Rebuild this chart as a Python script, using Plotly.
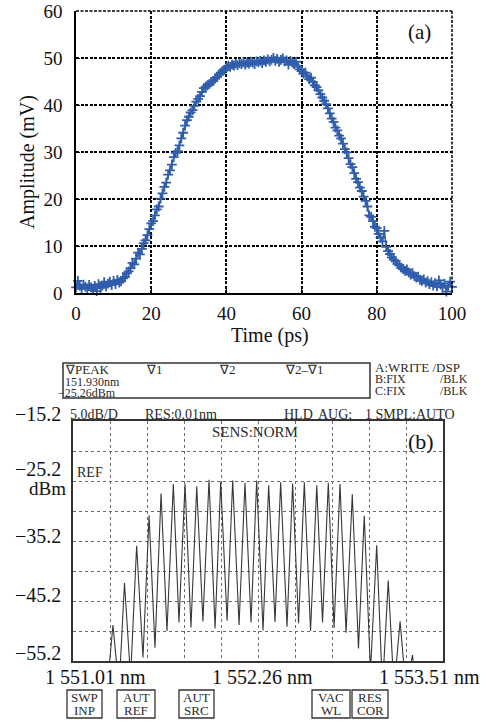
import plotly.graph_objects as go

# ---------------- data: panel (a) pulse ----------------
amplitude_mv = [
    1.2, 2.6, 1.5, 0.9, 1.8, 1.3, 1.0, 1.7, 1.2, 0.6, 1.5, 0.4, 1.9, 1.1, 1.6, 2.3, 1.4, 2.0, 2.4, 1.7,
    2.6, 1.9, 2.8, 2.2, 2.5, 3.1, 3.4, 4.2, 4.6, 5.3, 6.4, 6.1, 7.3, 8.6, 8.2, 9.4, 10.6, 11.2, 12.3, 13.6,
    14.8, 15.3, 16.5, 17.8, 18.4, 20.1, 21.2, 22.6, 23.5, 25.2, 26.1, 27.3, 28.9, 29.8, 30.2, 31.4, 32.9, 34.1, 35.6, 36.8,
    37.5, 38.4, 38.9, 39.8, 40.7, 41.3, 41.9, 42.8, 43.6, 43.9, 44.2, 44.5, 44.9, 45.1, 45.6, 46.0, 46.5, 46.9, 47.2, 47.5,
    48.0, 48.3, 48.1, 48.6, 48.4, 48.8, 48.5, 48.9, 48.7, 49.1, 48.6, 49.0, 48.8, 49.2, 49.0, 48.7, 49.3, 49.1, 49.4, 48.9,
    49.5, 49.2, 49.7, 49.3, 49.6, 50.0, 49.4, 49.8, 49.2, 49.6, 49.9, 49.3, 49.5, 48.6, 49.4, 49.0, 48.7, 49.2, 48.1, 47.6,
    47.2, 46.7, 46.9, 46.1, 45.5, 45.8, 44.9, 44.2, 43.8, 43.1, 42.3, 41.6, 40.9, 40.2, 39.3, 38.2, 37.1, 36.4, 35.2, 34.6,
    33.5, 32.9, 31.8, 30.6, 29.9, 28.7, 27.4, 26.8, 25.5, 24.3, 23.6, 22.4, 21.7, 20.5, 19.6, 18.4, 16.5, 16.2, 15.3, 14.1,
    13.8, 12.6, 11.8, 11.0, 13.2, 9.8, 8.9, 8.3, 7.6, 7.1, 6.8, 6.2, 5.9, 5.4, 5.1, 4.7, 5.0, 4.4, 3.9, 4.2,
    3.6, 3.3, 3.5, 2.8, 2.6, 2.9, 2.2, 2.5, 1.9, 2.3, 1.6, 2.1, 1.4, 2.7, 1.8, 1.2, 2.0, 0.3, 1.5, 2.4, 1.3,
]
time_ps = [i * 0.5 for i in range(len(amplitude_mv))]  # sampling grid, 0.5 ps

time_ticks = [0, 20, 40, 60, 80, 100]
amp_ticks = [0, 10, 20, 30, 40, 50, 60]

# ---------------- data: panel (b) spectrum (peak / valley vertices) ----------------
wavelength_nm = [
    1551.240, 1551.280, 1551.321, 1551.358, 1551.399, 1551.440, 1551.483, 1551.524, 1551.564, 1551.605,
    1551.645, 1551.688, 1551.726, 1551.767, 1551.807, 1551.846, 1551.888, 1551.929, 1551.970, 1552.008,
    1552.051, 1552.089, 1552.132, 1552.172, 1552.213, 1552.251, 1552.294, 1552.332, 1552.375, 1552.413,
    1552.456, 1552.494, 1552.534, 1552.573, 1552.615, 1552.657, 1552.696, 1552.735, 1552.774, 1552.814,
    1552.855, 1552.897, 1552.939, 1552.978, 1553.020, 1553.062, 1553.101, 1553.140, 1553.179, 1553.220,
    1553.260, 1553.304, 1553.328,
]
power_dbm = [
    -60.0, -49.2, -60.0, -42.2, -58.0, -36.0, -54.6, -30.9, -53.0, -27.3,
    -50.2, -25.7, -48.8, -25.7, -49.6, -26.1, -48.6, -25.0, -49.8, -25.3,
    -48.5, -25.1, -49.2, -25.5, -48.8, -25.1, -50.1, -25.9, -48.7, -25.4,
    -49.5, -25.6, -48.9, -25.4, -50.2, -25.9, -48.8, -25.5, -49.7, -25.7,
    -50.5, -27.4, -53.1, -31.0, -57.0, -35.9, -60.0, -41.8, -60.0, -48.6,
    -60.0, -54.2, -60.0,
]
wl_range = [1551.01, 1553.51]
db_range = [-55.2, -15.2]
db_labels = ["−15.2", "−25.2", "−35.2", "−45.2", "−55.2"]
wl_labels = ["1 551.01 nm", "1 552.26 nm", "1 553.51 nm"]

W, H = 487, 723
SERIF = "Liberation Serif, Times New Roman, serif"
BLUE = "#2f5dab"
OSA = "#2a2a2a"


def px(x):
    return x / W


def py(y):
    return 1 - y / H


fig = go.Figure()

fig.add_trace(go.Scatter(
    x=time_ps, y=amplitude_mv, mode="lines+markers", xaxis="x", yaxis="y",
    line=dict(color=BLUE, width=1.5),
    marker=dict(symbol="cross-thin", size=7, color=BLUE, line=dict(color=BLUE, width=1.8)),
    cliponaxis=False, showlegend=False,
))

fig.add_trace(go.Scatter(
    x=wavelength_nm, y=power_dbm, mode="lines", xaxis="x2", yaxis="y2",
    line=dict(color="#383838", width=1.1), showlegend=False,
))

grid_a = dict(showgrid=True, gridcolor="black", gridwidth=1.5, griddash="3px,1.5px",
              showline=True, linecolor="black", linewidth=1.5, ticks="inside", ticklen=4,
              tickcolor="black", zeroline=False, automargin=False,
              tickfont=dict(family=SERIF, size=19, color="#111"))

osa_axis = dict(showticklabels=False, ticks="", showgrid=True, gridcolor="#6a6a6a", gridwidth=1,
                griddash="dot", showline=True, mirror=True, linecolor="#333", linewidth=1.5,
                zeroline=False, automargin=False)

fig.update_layout(
    template="none",
    width=W, height=H,
    margin=dict(l=0, r=0, t=0, b=0, pad=0, autoexpand=False),
    paper_bgcolor="white", plot_bgcolor="white",
    font=dict(family=SERIF, color="#111"),
    showlegend=False,
    xaxis=dict(domain=[px(76), px(452)], anchor="y", range=[0, 100], tickvals=time_ticks,
               ticklabelstandoff=2, **grid_a),
    yaxis=dict(domain=[py(293), py(11)], anchor="x", range=[0, 60], tickvals=amp_ticks,
               ticklabelstandoff=8, **grid_a),
    xaxis2=dict(domain=[px(73), px(443)], anchor="y2", range=wl_range, tick0=wl_range[0], dtick=0.25,
                **osa_axis),
    yaxis2=dict(domain=[py(661), py(421)], anchor="x2", range=db_range, tick0=db_range[0], dtick=5,
                **osa_axis),
)

shapes = [
    # dashed top / right border of panel (a)
    dict(type="line", xref="paper", yref="paper", x0=px(76), x1=px(452), y0=py(11), y1=py(11),
         line=dict(color="black", width=1.5, dash="3px,1.5px")),
    dict(type="line", xref="paper", yref="paper", x0=px(452), x1=px(452), y0=py(11), y1=py(293),
         line=dict(color="black", width=1.5, dash="3px,1.5px")),
    # OSA marker info box
    dict(type="rect", xref="paper", yref="paper", x0=px(63), x1=px(370), y0=py(363), y1=py(398),
         line=dict(color="#333", width=1.5)),
]
# soft-key boxes
softkeys = [("SWP", "INP", 67, 102), ("AUT", "REF", 117, 155), ("AUT", "SRC", 179, 214),
            ("VAC", "WL", 312, 350), ("RES", "COR", 352, 388)]
for _, _, x0, x1 in softkeys:
    shapes.append(dict(type="rect", xref="paper", yref="paper", x0=px(x0), x1=px(x1),
                       y0=py(690), y1=py(718), line=dict(color="#333", width=1.3)))
fig.update_layout(shapes=shapes)

ann = []


def text(t, x, y, size, anchor="center", color="#111", angle=0):
    ann.append(dict(text=t, xref="paper", yref="paper", x=px(x), y=py(y), xanchor=anchor,
                    yanchor="middle", showarrow=False, textangle=angle,
                    font=dict(family=SERIF, size=size, color=color)))


# panel (a) texts
text("(a)", 419, 32, 21)
text("Time (ps)", 270, 335, 20)
text("Amplitude (mV)", 27, 162, 20, angle=-90)

# panel (b) axis labels
for lab, yy in zip(db_labels, [414, 469, 536, 595, 653]):
    text(lab, 63, yy, 20, anchor="right")
text("dBm", 68, 488, 19, anchor="right")
for lab, xx in zip(wl_labels, [95, 262, 429]):
    text(lab, xx, 677, 20)

# OSA header texts
text("∇PEAK", 63, 369, 13, anchor="left", color=OSA)
text("∇1", 144, 369, 13, anchor="left", color=OSA)
text("∇2", 217, 369, 13, anchor="left", color=OSA)
text("∇2–∇1", 283, 369, 13, anchor="left", color=OSA)
text("151.930nm", 63, 382, 12, anchor="left", color=OSA)
text("−25.26dBm", 56, 393, 12, anchor="left", color=OSA)
text("A:WRITE /DSP", 373, 367, 13, anchor="left", color=OSA)
text("B:FIX", 373, 379, 12, anchor="left", color=OSA)
text("/BLK", 470, 379, 12, anchor="right", color=OSA)
text("C:FIX", 373, 391, 12, anchor="left", color=OSA)
text("/BLK", 470, 391, 12, anchor="right", color=OSA)
text("5.0dB/D", 68, 414, 14, anchor="left", color=OSA)
text("RES:0.01nm", 143, 414, 14, anchor="left", color=OSA)
text("HLD", 282, 414, 14, anchor="left", color=OSA)
text("AUG:", 316, 414, 14, anchor="left", color=OSA)
text("1 SMPL:AUTO", 363, 414, 14, anchor="left", color=OSA)
text("SENS:NORM", 255, 432, 15, color=OSA)
text("(b)", 421, 441, 22, color="#111")
text("REF", 75, 472, 14, anchor="left", color=OSA)
for a, b, x0, x1 in softkeys:
    text(a, (x0 + x1) / 2, 697.5, 13, color=OSA)
    text(b, (x0 + x1) / 2, 710.5, 13, color=OSA)

fig.update_layout(annotations=ann)

# remove the browser's default 8px body margin so the figure sits at the page origin
fig.write_html("out.html", config={"displayModeBar": False},
               post_script="document.body.style.margin='0';")
